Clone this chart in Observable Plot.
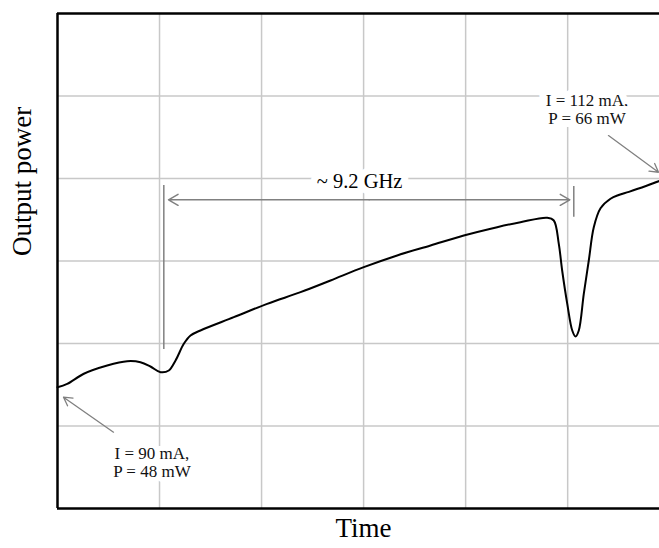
<!DOCTYPE html>
<html>
<head>
<meta charset="utf-8">
<script src="https://cdn.jsdelivr.net/npm/d3@7"></script>
<script src="https://cdn.jsdelivr.net/npm/@observablehq/plot@0.6"></script>
<style>
  body { margin: 0; background: #fff; }
</style>
</head>
<body>
<div id="chart"></div>
<script>
// Trace (arbitrary units: grid divisions)
const timeU = [0, 0.095, 0.258, 0.487, 0.683, 0.813, 0.911, 1.01, 1.091, 1.157, 1.238, 1.304, 1.401,
  1.728, 2.055, 2.382, 2.676, 3.002, 3.329, 3.656, 3.982, 4.309, 4.537, 4.8, 4.864, 4.913, 4.946,
  4.996, 5.045, 5.077, 5.109, 5.158, 5.207, 5.256, 5.322, 5.42, 5.5, 5.6, 5.78, 5.9];
const powerU = [1.47, 1.51, 1.633, 1.733, 1.785, 1.773, 1.721, 1.652, 1.673, 1.794, 1.996, 2.097, 2.158,
  2.319, 2.481, 2.622, 2.764, 2.925, 3.067, 3.188, 3.309, 3.41, 3.47, 3.524, 3.491, 3.208, 2.885,
  2.481, 2.158, 2.085, 2.158, 2.602, 3.006, 3.41, 3.64, 3.755, 3.8, 3.838, 3.915, 3.97];

const gridX = [1, 2, 3, 4, 5];
const gridY = [1, 2, 3, 4, 5];

const xLabel = "Time";
const yLabel = "Output power";
const spanLabel = "~ 9.2 GHz";
const startLabel = "I = 90 mA,\nP = 48 mW";
const endLabel = "I = 112 mA,\nP = 66 mW";

// annotation anchor points (in grid units)
const markerLines = [
  {x: 1.042, y1: 1.927, y2: 3.915},
  {x: 5.06, y1: 3.531, y2: 3.903}
];
const spanArrow = {xa: 1.088, xb: 5.021, y: 3.742};
const pointerArrows = [
  {x1: 0.549, y1: 0.925, x2: 0.059, y2: 1.349},
  {x1: 5.40, y1: 4.52, x2: 5.89, y2: 4.076}
];

const trace = timeU.map((t, i) => ({t, p: powerU[i]}));
const mid = (spanArrow.xa + spanArrow.xb) / 2;
const gray = "#808080";

const chart = Plot.plot({
  width: 659,
  height: 548,
  marginLeft: 57,
  marginRight: 0,
  marginTop: 13,
  marginBottom: 40,
  style: {fontFamily: "'Liberation Serif', 'Times New Roman', serif", background: "#fff"},
  x: {domain: [0, 5.9], axis: null},
  y: {domain: [0, 6], axis: null},
  marks: [
    Plot.ruleX(gridX, {stroke: "#c8c8c8", strokeWidth: 1.5}),
    Plot.ruleY(gridY, {stroke: "#c8c8c8", strokeWidth: 1.5}),
    Plot.ruleX(markerLines, {x: "x", y1: "y1", y2: "y2", stroke: gray, strokeWidth: 1.5}),
    Plot.arrow([{x1: mid, x2: spanArrow.xa}, {x1: mid, x2: spanArrow.xb}], {
      x1: "x1", x2: "x2", y1: spanArrow.y, y2: spanArrow.y,
      stroke: gray, strokeWidth: 1.5, headLength: 11, headAngle: 60
    }),
    Plot.arrow(pointerArrows, {
      x1: "x1", y1: "y1", x2: "x2", y2: "y2",
      stroke: gray, strokeWidth: 1.3, headLength: 11, headAngle: 60
    }),
    Plot.text([spanLabel], {
      x: 2.96, y: 3.97, fontSize: 20.5, fill: "black",
      stroke: "white", strokeWidth: 14, strokeLinejoin: "round", paintOrder: "stroke"
    }),
    Plot.text([endLabel], {
      x: 5.19, y: 4.84, fontSize: 17, lineHeight: 1.08, fill: "#111",
      stroke: "white", strokeWidth: 14, strokeLinejoin: "round", paintOrder: "stroke"
    }),
    Plot.text([startLabel], {
      x: 0.926, y: 0.561, fontSize: 17, lineHeight: 1.08, fill: "#111",
      stroke: "white", strokeWidth: 10, strokeLinejoin: "round", paintOrder: "stroke"
    }),
    Plot.line(trace, {x: "t", y: "p", curve: "catmull-rom", stroke: "black", strokeWidth: 2}),
    Plot.ruleX([0], {stroke: "black", strokeWidth: 2.5}),
    Plot.ruleY([0, 6], {stroke: "black", strokeWidth: 2.5}),
    Plot.text([yLabel], {frameAnchor: "left", rotate: -90, dx: -35, dy: -5, fontSize: 27, fill: "black"}),
    Plot.text([xLabel], {frameAnchor: "bottom", dx: 5, dy: 28, fontSize: 27, fill: "black"})
  ]
});
document.getElementById("chart").appendChild(chart);
</script>
</body>
</html>
